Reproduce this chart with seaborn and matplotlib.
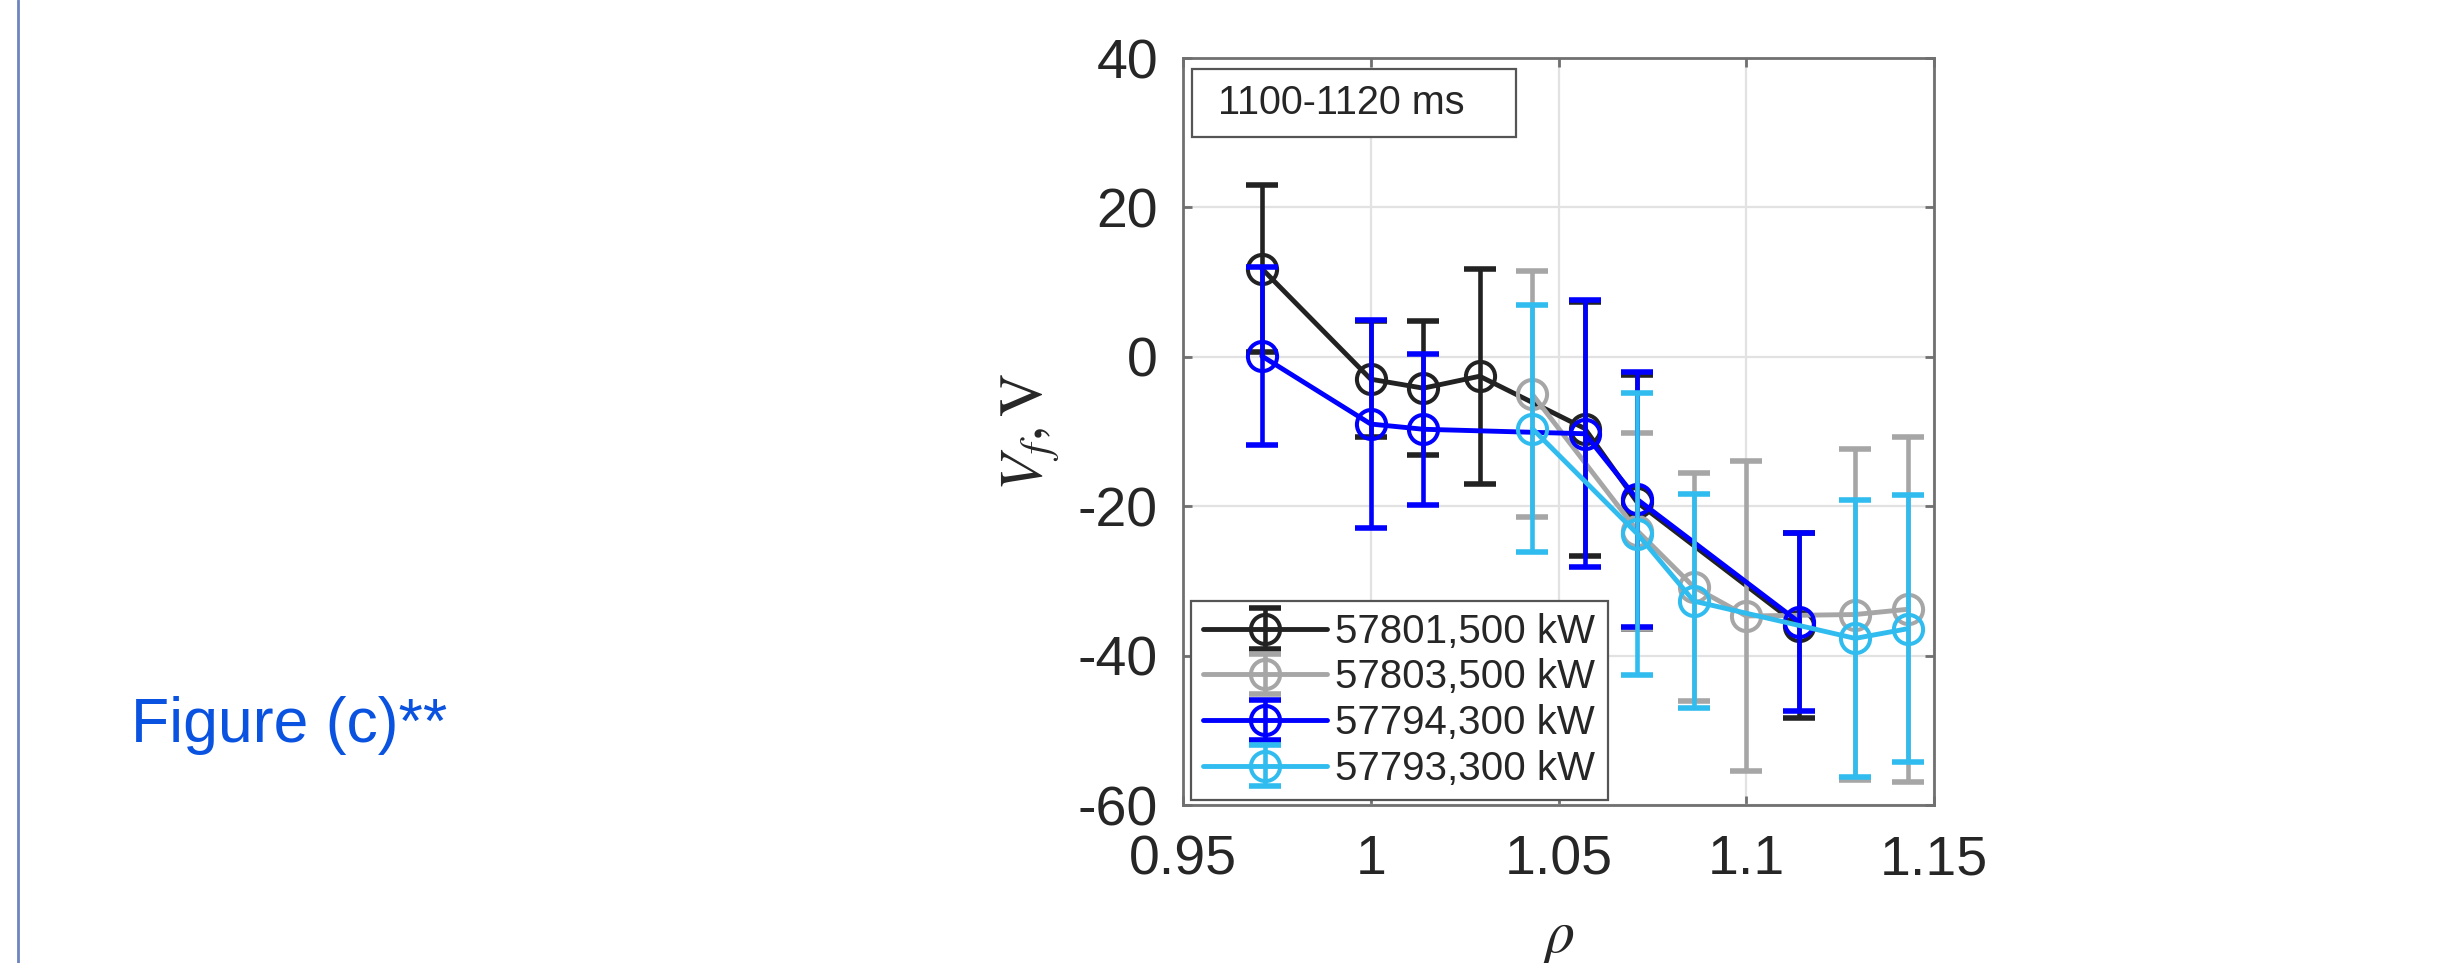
import matplotlib
matplotlib.use("Agg")
import matplotlib.pyplot as plt
from matplotlib.lines import Line2D
from matplotlib.patches import Rectangle
from matplotlib.legend_handler import HandlerTuple
import seaborn as sns

# ---------------- data ----------------
rho_57801 = [0.971, 1.0, 1.014, 1.029, 1.057, 1.071, 1.114]
vf_57801 = [11.8, -3.0, -4.2, -2.6, -9.6, -19.5, -36.0]
err_57801 = [11.2, 7.8, 9.0, 14.4, 17.0, 17.0, 12.4]

rho_57803 = [1.043, 1.071, 1.086, 1.1, 1.129, 1.143]
vf_57803 = [-5.0, -23.3, -30.8, -34.7, -34.5, -33.8]
err_57803 = [16.5, 13.1, 15.3, 20.7, 22.2, 23.1]

rho_57794 = [0.971, 1.0, 1.014, 1.057, 1.071, 1.114]
vf_57794 = [0.1, -9.0, -9.7, -10.3, -19.1, -35.5]
err_57794 = [11.9, 13.9, 10.1, 17.9, 17.1, 11.9]

rho_57793 = [1.043, 1.071, 1.086, 1.129, 1.143]
vf_57793 = [-9.6, -23.7, -32.7, -37.7, -36.4]
err_57793 = [16.5, 18.9, 14.3, 18.5, 17.9]

labels = ["57801,500 kW", "57803,500 kW", "57794,300 kW", "57793,300 kW"]
colors = ["#222222", "#a6a6a6", "#0000ff", "#30bcef"]
xticks = [0.95, 1.0, 1.05, 1.1, 1.15]
xticklabels = ["0.95", "1", "1.05", "1.1", "1.15"]
yticks = [-60, -40, -20, 0, 20, 40]
yticklabels = ["-60", "-40", "-20", "0", "20", "40"]
time_window = "1100-1120 ms"
side_caption = "Figure (c)**"

series = [
    (rho_57801, vf_57801, err_57801),
    (rho_57803, vf_57803, err_57803),
    (rho_57794, vf_57794, err_57794),
    (rho_57793, vf_57793, err_57793),
]

# ---------------- style ----------------
sns.set_style("white")
plt.rcParams["font.family"] = ["Liberation Sans", "DejaVu Sans"]
plt.rcParams["mathtext.fontset"] = "stix"
plt.rcParams["axes.unicode_minus"] = False

W, H = 2451, 963
fig = plt.figure(figsize=(W / 100, H / 100), dpi=100)
fig.patch.set_facecolor("white")

ax_l, ax_r, ax_t, ax_b = 1183, 1934, 58, 805
ax = fig.add_axes([ax_l / W, 1 - ax_b / H, (ax_r - ax_l) / W, (ax_b - ax_t) / H])
ax.set_facecolor("white")

spine_c = "#707070"
handles = []
for i, ((xs, ys, es), c) in enumerate(zip(series, colors)):
    base = 2.0 + 0.1 * i
    eb = ax.errorbar(xs, ys, yerr=es, fmt="none", ecolor=c, elinewidth=3.3,
                     capsize=11.5, capthick=4.0, zorder=base)
    sns.lineplot(x=xs, y=ys, ax=ax, color=c, linewidth=3.5, marker="o",
                 markersize=21, markerfacecolor="none", markeredgecolor=c,
                 markeredgewidth=2.9, sort=False, errorbar=None, legend=False,
                 zorder=base + 0.05)
    line = ax.lines[-1]
    handles.append((line, eb))

ax.set_xlim(0.95, 1.15)
ax.set_ylim(-60, 40)
ax.set_xticks(xticks)
ax.set_xticklabels(xticklabels)
ax.set_yticks(yticks)
ax.set_yticklabels(yticklabels)
ax.grid(True, color="#e2e2e2", linewidth=1.6)
ax.set_axisbelow(True)
for s in ax.spines.values():
    s.set_visible(True)
    s.set_color(spine_c)
    s.set_linewidth(2.0)
ax.tick_params(axis="both", direction="in", length=6.5, width=2.0,
               color=spine_c, labelcolor="#262626", labelsize=40,
               top=True, right=True, bottom=True, left=True)
ax.tick_params(axis="x", pad=21)
ax.tick_params(axis="y", pad=18)

ax.set_ylabel(r"$V_f, \mathrm{V}$", fontsize=43, color="#262626")
ax.yaxis.set_label_coords(-0.1615, 0.5)
ax.set_xlabel(r"$\rho$", fontsize=43, color="#262626")
ax.xaxis.set_label_coords(0.5, -0.143)

# time-window box
ax.add_patch(Rectangle((0.012, 0.8942), 0.4314, 0.0911, transform=ax.transAxes,
                       facecolor="white", edgecolor="#555555", linewidth=1.6,
                       zorder=5))
ax.text(0.046, 0.9398, time_window, transform=ax.transAxes, fontsize=28.5,
        color="#262626", ha="left", va="center", zorder=6)

leg = ax.legend(handles, labels, handler_map={tuple: HandlerTuple(ndivide=1, pad=0)},
                loc="lower left", bbox_to_anchor=(0.011, 0.007),
                borderaxespad=0, fontsize=29, frameon=True, fancybox=False,
                framealpha=1, edgecolor="#555555", labelspacing=0.19,
                handlelength=3.08, handletextpad=0.2, borderpad=0.3,
                numpoints=1)
leg.get_frame().set_linewidth(1.6)
for t in leg.get_texts():
    t.set_color("#262626")
leg.set_zorder(10)

# page decorations
fig.add_artist(Line2D([18 / W, 18 / W], [0, 1], transform=fig.transFigure,
                      color="#6d84c0", linewidth=2.0))
fig.text(131 / W, 1 - 742 / H, side_caption, fontsize=45, color="#0a52e0",
         ha="left", va="baseline")

fig.savefig("out.png", dpi=100, facecolor="white")
